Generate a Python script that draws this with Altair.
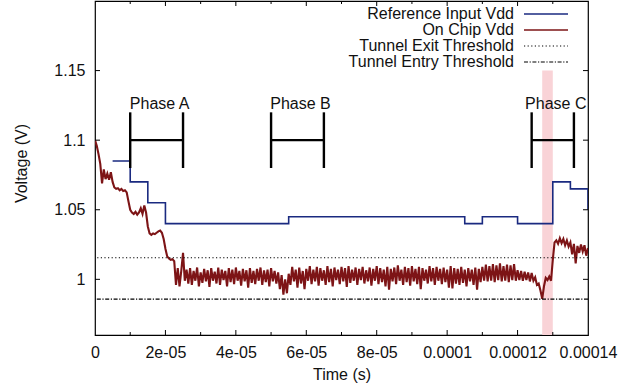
import json
import altair as alt
import pandas as pd

# ---------------- data ----------------
x_ticks = [0, 2e-5, 4e-5, 6e-5, 8e-5, 1e-4, 1.2e-4, 1.4e-4]
x_tick_labels = ["0", "2e-05", "4e-05", "6e-05", "8e-05", "0.0001", "0.00012", "0.00014"]
x_minor_ticks = [1e-5, 3e-5, 5e-5, 7e-5, 9e-5, 1.1e-4, 1.3e-4]
y_ticks = [1.0, 1.05, 1.1, 1.15]

# Reference Input Vdd (step-after)
ref_t = [5e-6, 1e-5, 1.5e-5, 2e-5, 5.5e-5, 1.05e-4, 1.1e-4, 1.2e-4, 1.3e-4, 1.35e-4, 1.4e-4]
ref_v = [1.085, 1.07, 1.055, 1.04, 1.045, 1.04, 1.045, 1.04, 1.07, 1.065, 1.05]

# On Chip Vdd, sampled every 0.5 us
chip_step = 0.5e-6
chip_v = [
    1.1000, 1.0960, 1.0900, 1.0830, 1.0690, 1.0790, 1.0720, 1.0760, 1.0715, 1.0770,
    1.0700, 1.0660, 1.0650, 1.0655, 1.0640, 1.0650, 1.0635, 1.0640, 1.0625, 1.0560,
    1.0500, 1.0480, 1.0470, 1.0485, 1.0465, 1.0480, 1.0510, 1.0470, 1.0530, 1.0480,
    1.0380, 1.0330, 1.0320, 1.0330, 1.0325, 1.0335, 1.0345, 1.0350, 1.0335, 1.0290,
    1.0220, 1.0165, 1.0150, 1.0140, 1.0145, 1.0130, 0.9960, 1.0080, 0.9950, 1.0060,
    1.0190, 0.9990, 1.0070, 0.9970, 1.0080, 0.9960, 1.0060, 0.9990, 1.0085, 0.9950,
    1.0050, 0.9975, 1.0075, 0.9985, 1.0065, 0.9945, 1.0080, 0.9990, 1.0055, 0.9970,
    1.0085, 0.9960, 1.0070, 0.9995, 1.0060, 0.9950, 1.0080, 0.9980, 1.0070, 0.9965,
    1.0085, 0.9990, 1.0060, 0.9955, 1.0075, 0.9985, 1.0065, 0.9940, 1.0080, 0.9975,
    1.0060, 0.9965, 1.0075, 0.9990, 1.0085, 0.9960, 1.0065, 0.9980, 1.0070, 0.9950,
    1.0080, 0.9985, 1.0060, 0.9970, 1.0050, 0.9930, 1.0030, 0.9890, 1.0000, 0.9900,
    1.0040, 0.9960, 1.0090, 0.9985, 1.0070, 0.9940, 1.0085, 0.9970, 1.0060, 0.9930,
    1.0075, 0.9990, 1.0095, 0.9965, 1.0070, 0.9985, 1.0090, 0.9955, 1.0080, 0.9990,
    1.0065, 0.9960, 1.0095, 0.9980, 1.0075, 0.9950, 1.0085, 0.9995, 1.0070, 0.9965,
    1.0090, 0.9985, 1.0080, 0.9945, 1.0095, 0.9975, 1.0070, 0.9990, 1.0085, 0.9960,
    1.0075, 0.9995, 1.0090, 0.9970, 1.0065, 0.9985, 1.0085, 0.9955, 1.0075, 0.9990,
    1.0095, 0.9965, 1.0080, 0.9980, 1.0070, 0.9950, 1.0090, 0.9925, 1.0075, 0.9985,
    1.0085, 0.9965, 1.0100, 0.9990, 1.0070, 0.9960, 1.0090, 0.9980, 1.0080, 0.9955,
    1.0095, 0.9985, 1.0075, 0.9965, 1.0090, 0.9930, 1.0080, 0.9990, 1.0070, 0.9970,
    1.0095, 0.9985, 1.0080, 0.9960, 1.0090, 0.9990, 1.0075, 0.9965, 1.0085, 0.9980,
    1.0070, 0.9940, 1.0095, 0.9935, 1.0080, 0.9970, 1.0075, 0.9960, 1.0090, 0.9975,
    1.0070, 0.9950, 1.0080, 0.9985, 1.0070, 0.9960, 1.0085, 0.9925, 1.0075, 0.9980,
    1.0090, 0.9990, 1.0105, 0.9985, 1.0095, 0.9990, 1.0110, 0.9980, 1.0100, 0.9995,
    1.0115, 0.9985, 1.0095, 0.9990, 1.0105, 0.9980, 1.0100, 0.9995, 1.0110, 0.9990,
    1.0065, 0.9995, 1.0060, 0.9990, 1.0055, 0.9995, 1.0050, 0.9985, 1.0045, 0.9990,
    1.0015, 0.9960, 0.9970, 0.9920, 0.9860, 0.9950, 1.0010, 0.9995, 1.0020, 0.9990,
    1.0140, 1.0265, 1.0280, 1.0255, 1.0295, 1.0260, 1.0290, 1.0245, 1.0280, 1.0235,
    1.0265, 1.0180, 1.0255, 1.0115, 1.0240, 1.0190, 1.0250, 1.0200, 1.0245, 1.0170,
    1.0225,
]
chip_t = [i * chip_step for i in range(len(chip_v))]

threshold_exit = 1.0155
threshold_entry = 0.9858

phase_names = ["Phase A", "Phase B", "Phase C"]
phase_start = [1e-5, 5e-5, 1.24e-4]
phase_end = [2.5e-5, 6.5e-5, 1.36e-4]
phase_low, phase_mid, phase_high, phase_label_y = 1.08, 1.10, 1.12, 1.126

tunnel_start, tunnel_end, tunnel_top = 1.27e-4, 1.30e-4, 1.15

legend_labels = ["Reference Input Vdd", "On Chip Vdd", "Tunnel Exit Threshold", "Tunnel Entry Threshold"]

# ---------------- style ----------------
FONT = "Liberation Sans"
BLUE = "#1a2a80"
RED = "#7d1416"
PINK = "#f9d3d7"
W, H = 493, 334

xs = alt.Scale(domain=[0, 1.4e-4], nice=False, zero=False)
ys = alt.Scale(domain=[0.96, 1.2], nice=False, zero=False)

label_expr = json.dumps(x_tick_labels) + "[round(datum.value / 2e-5)]"

x_axis = alt.Axis(values=x_ticks, labelExpr=label_expr, title="Time (s)", grid=False,
                  ticks=False, tickSize=0, domain=False, labelPadding=9, labelFlush=False,
                  labelOverlap=False, titleY=39, titleBaseline="middle")
y_axis = alt.Axis(values=y_ticks, format="~g", title="Voltage (V)", grid=False,
                  ticks=False, tickSize=0, domain=False, labelPadding=10,
                  labelOverlap=False, titleX=-74, titleY=162, titleAngle=-90,
                  titleAlign="center", titleBaseline="middle")


def X(field):
    return alt.X(field, scale=xs, axis=x_axis)


def Y(field):
    return alt.Y(field, scale=ys, axis=y_axis)


one = pd.DataFrame({"k": [0]})

# tunnel shading
tunnel = alt.Chart(pd.DataFrame({"x": [tunnel_start], "x2": [tunnel_end],
                                 "y": [0.96], "y2": [tunnel_top]})).mark_rect(color=PINK).encode(
    x=X("x:Q"), x2="x2:Q", y=Y("y:Q"), y2="y2:Q",
)

ref_line = alt.Chart(pd.DataFrame({"t": ref_t, "v": ref_v})).mark_line(
    interpolate="step-after", color=BLUE, strokeWidth=1.6, clip=True).encode(
    x=X("t:Q"), y=Y("v:Q"),
)

chip_line = alt.Chart(pd.DataFrame({"t": chip_t, "v": chip_v})).mark_line(
    color=RED, strokeWidth=2.1, strokeJoin="miter", clip=True).encode(
    x=X("t:Q"), y=Y("v:Q"),
)

exit_rule = alt.Chart(pd.DataFrame({"v": [threshold_exit]})).mark_rule(
    color="black", strokeWidth=1.2, strokeDash=[1.2, 2.4]).encode(y=Y("v:Q"))
entry_rule = alt.Chart(pd.DataFrame({"v": [threshold_entry]})).mark_rule(
    color="black", strokeWidth=1.2, strokeDash=[4, 1.6, 1.2, 1.6]).encode(y=Y("v:Q"))

phase_df = pd.DataFrame({
    "name": phase_names, "start": phase_start, "end": phase_end,
    "mid": [(a + b) / 2 for a, b in zip(phase_start, phase_end)],
    "ym": [phase_mid] * 3, "ly": [phase_label_y] * 3,
})
phase_edges = pd.DataFrame({
    "x": phase_start + phase_end,
    "lo": [phase_low] * 6, "hi": [phase_high] * 6,
})
phase_vert = alt.Chart(phase_edges).mark_rule(color="black", strokeWidth=2.4).encode(
    x=X("x:Q"), y=Y("lo:Q"), y2="hi:Q")
phase_horiz = alt.Chart(phase_df).mark_rule(color="black", strokeWidth=2.4).encode(
    x=X("start:Q"), x2="end:Q", y=Y("ym:Q"))
phase_text = alt.Chart(phase_df).mark_text(
    font=FONT, fontSize=16, color="#111", align="center", baseline="middle", dx=3).encode(
    x=X("mid:Q"), y=Y("ly:Q"), text="name:N")

# inward ticks (gnuplot style, mirrored)
xt = pd.DataFrame({"x": x_ticks[1:-1]})
xm = pd.DataFrame({"x": x_minor_ticks})
yt = pd.DataFrame({"y": y_ticks})
tick_layers = [
    alt.Chart(xt).mark_rule(color="black", strokeWidth=1).encode(
        x=X("x:Q"), y=alt.value(H), y2=alt.value(H - 5)),
    alt.Chart(xt).mark_rule(color="black", strokeWidth=1).encode(
        x=X("x:Q"), y=alt.value(0), y2=alt.value(5)),
    alt.Chart(xm).mark_rule(color="black", strokeWidth=1).encode(
        x=X("x:Q"), y=alt.value(H), y2=alt.value(H - 3)),
    alt.Chart(xm).mark_rule(color="black", strokeWidth=1).encode(
        x=X("x:Q"), y=alt.value(0), y2=alt.value(3)),
    alt.Chart(yt).mark_rule(color="black", strokeWidth=1).encode(
        y=Y("y:Q"), x=alt.value(0), x2=alt.value(5)),
    alt.Chart(yt).mark_rule(color="black", strokeWidth=1).encode(
        y=Y("y:Q"), x=alt.value(W), x2=alt.value(W - 5)),
]

# legend (top-right, inside, gnuplot style)
legend_layers = []
legend_styles = [
    dict(color=BLUE, strokeWidth=1.6),
    dict(color=RED, strokeWidth=1.6),
    dict(color="black", strokeWidth=1.2, strokeDash=[1.2, 2.4]),
    dict(color="black", strokeWidth=1.2, strokeDash=[4, 1.6, 1.2, 1.6]),
]
for i, (lab, sty) in enumerate(zip(legend_labels, legend_styles)):
    yy = 13 + 16 * i
    legend_layers.append(
        alt.Chart(one).mark_text(font=FONT, fontSize=16, color="#111", align="right",
                                 baseline="middle").encode(
            x=alt.value(419), y=alt.value(yy), text=alt.value(lab)))
    legend_layers.append(
        alt.Chart(one).mark_rule(**sty).encode(
            x=alt.value(429), x2=alt.value(473), y=alt.value(yy)))

chart = alt.layer(
    tunnel, ref_line, chip_line, exit_rule, entry_rule,
    phase_vert, phase_horiz, phase_text, *tick_layers, *legend_layers,
).properties(
    width=W, height=H,
    padding={"left": 95, "top": 1, "right": 44, "bottom": 55},
    autosize=alt.AutoSizeParams(type="none"),
    background="white",
).configure_view(
    stroke="black", strokeWidth=1.2,
).configure_axis(
    labelFont=FONT, labelFontSize=16, labelColor="#111",
    titleFont=FONT, titleFontSize=16, titleFontWeight="normal", titleColor="#111",
)

chart.save("out.html", embed_options={"renderer": "svg", "actions": False})
